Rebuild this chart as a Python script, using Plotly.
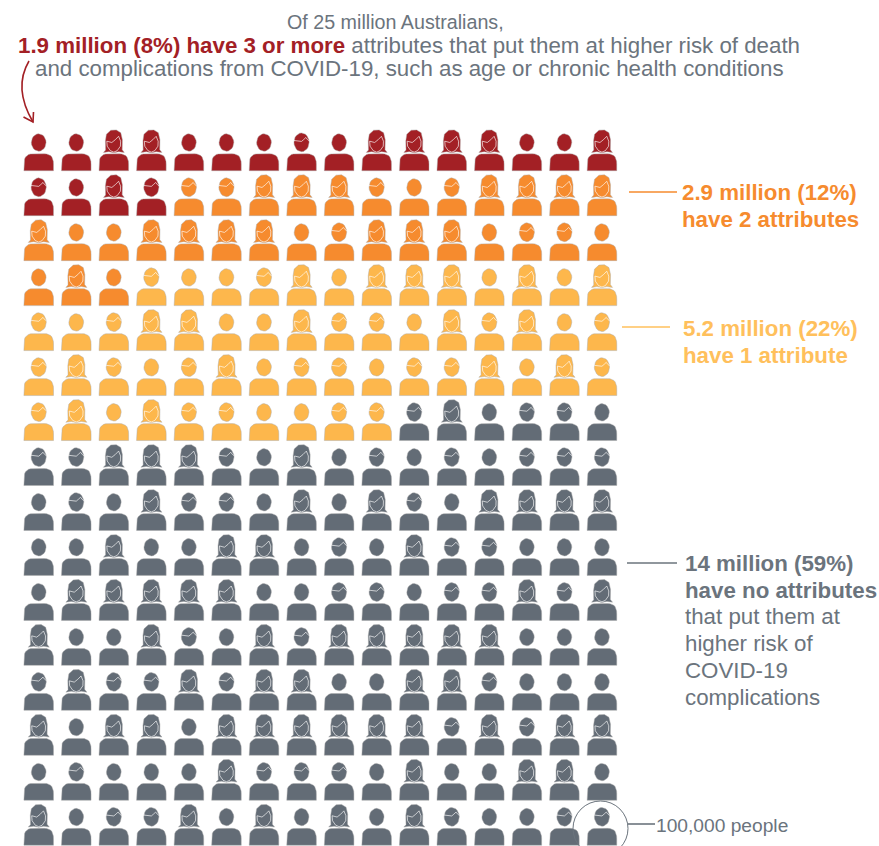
import plotly.graph_objects as go
import math

# ---- data -----------------------------------------------------------------
group_names = ["3 or more attributes", "2 attributes", "1 attribute", "No attributes"]
group_counts = [20, 31, 55, 150]
group_colors = ["#A32025", "#F68B2E", "#FDB74C", "#636C76"]

# icon type per person: B = plain, S = short hair, L = long hair
icon_rows = [
    "BBLLBBBS" "BLLLLBBL",
    "SBLSSSLL" "LSBSLLLL",
    "LBBLLLLB" "SLLLBSSB",
    "BLBSBBSL" "BLLLBLBL",
    "SBSLLBBL" "SSBLSLBS",
    "SLSBSLBS" "SBSSLBLS",
    "SLBLSSBB" "SSSLBSSB",
    "SSLLLSBL" "BSBSBSSS",
    "BSBLSSBL" "BLSBLLLL",
    "BBLBBLLB" "SBLSSBBB",
    "BLLLLLBB" "SSBSSLSL",
    "LBBLSBLS" "LLLLLBBB",
    "SLSSLSLL" "BBLLSBBB",
    "LBLLBLLL" "LLLSLSLL",
    "BSBBBLSS" "SBLBBLLB",
    "LBSSLBLB" "LBLSBBSS",
]

title_lines = ["Of 25 million Australians,",
               "1.9 million (8%) have 3 or more",
               " attributes that put them at higher risk of death",
               "and complications from COVID-19, such as age or chronic health conditions"]
WIDTH, HEIGHT = 879, 846
COL_X0, COL_DX = 38.7, 37.55
ROW_Y0, ROW_DY = 170.7, 44.97
TEXT_GREY = "#6B747D"
FONT = "Liberation Sans, Arial, sans-serif"
BIG = 22.3


# ---- icon templates, in pixels relative to the foot of each icon -----------
def ellipse(cy, rx, ry, n=24):
    return [(rx * math.cos(2 * math.pi * i / n), cy + ry * math.sin(2 * math.pi * i / n)) for i in range(n + 1)]


def bez(p0, p1, p2, n=7):
    return [((1 - t) ** 2 * p0[0] + 2 * t * (1 - t) * p1[0] + t * t * p2[0],
             (1 - t) ** 2 * p0[1] + 2 * t * (1 - t) * p1[1] + t * t * p2[1])
            for t in [i / n for i in range(n + 1)]]


BODY = ([(-14.8, 0)] + bez((-14.8, -6.5), (-15, -17.2), (-5.5, -16.9))
        + bez((5.5, -16.9), (15, -17.2), (14.8, -6.5)) + [(14.8, 0), (-14.8, 0)])
PLAIN = ellipse(-28.2, 7.4, 8.7)
SHORT = ellipse(-28.4, 7.6, 9.4)
LONG = [(-10.4, -18.2), (-8.2, -20.6), (-8.4, -30), (-7.4, -36.5), (-3, -40.5), (2.5, -40.8),
        (7, -38), (8.6, -31), (8.4, -21), (10.6, -18.2), (5, -19), (0, -18), (-5, -19), (-10.4, -18.2)]
FRINGE_S = [(-7.6, -30.2), (-3, -29.2), (0, -29.3), (2.2, -31.2), (4.3, -33.2), (6, -31), (7.8, -29.8)]
FRINGE_L = [(-7.0, -29.5), (-2, -28.2), (1.5, -31), (4.8, -34.4), (6.8, -29.5)]
FACE_L = [(-7.0, -29.5), (-6.6, -24.5), (-3.4, -20), (0, -18.6), (3.4, -20), (6.6, -24.5), (6.8, -29.5)]


def to_data(points, col, row):
    return [(col + px / COL_DX, row + py / ROW_DY) for px, py in points]


def add_poly(xs, ys, points, col, row):
    for x, y in to_data(points, col, row):
        xs.append(x)
        ys.append(y)
    xs.append(None)
    ys.append(None)


fig = go.Figure()

# ---- draw the people, group by group ---------------------------------------
cells = [(r, c, kind) for r, row in enumerate(icon_rows) for c, kind in enumerate(row)]
line_x, line_y = [], []
start = 0
for name, count, color in zip(group_names, group_counts, group_colors):
    xs, ys = [], []
    for r, c, kind in cells[start:start + count]:
        add_poly(xs, ys, BODY, c, r)
        add_poly(xs, ys, {"B": PLAIN, "S": SHORT, "L": LONG}[kind], c, r)
        if kind == "S":
            add_poly(line_x, line_y, FRINGE_S, c, r)
        if kind == "L":
            add_poly(line_x, line_y, FRINGE_L, c, r)
            add_poly(line_x, line_y, FACE_L, c, r)
    start += count
    fig.add_trace(go.Scatter(x=xs, y=ys, mode="lines", fill="toself", fillcolor=color, name=name,
                             line=dict(color="rgba(170,170,170,0.45)", width=1), hoverinfo="name"))
fig.add_trace(go.Scatter(x=line_x, y=line_y, mode="lines", hoverinfo="skip", name="hair",
                         line=dict(color="rgba(255,255,255,0.72)", width=0.9)))


# ---- text and leaders, placed in page pixels --------------------------------
def px(x):
    return x / WIDTH


def py(y):
    return 1 - y / HEIGHT


def label(x, y, text, color=TEXT_GREY, size=BIG, bold=False):
    fig.add_annotation(xref="paper", yref="paper", x=px(x), y=py(y), text=f"<b>{text}</b>" if bold else text,
                       showarrow=False, xanchor="left", yanchor="middle", align="left",
                       font=dict(family=FONT, size=size, color=color), borderpad=0)


def leader(x0, x1, y, color):
    fig.add_shape(type="line", xref="paper", yref="paper", x0=px(x0), x1=px(x1), y0=py(y), y1=py(y),
                  line=dict(color=color, width=1.6))


label(286, 22, title_lines[0], size=19.7)
label(17, 46, f'<span style="color:{group_colors[0]}"><b>{title_lines[1]}</b></span>{title_lines[2]}')
label(34, 69, title_lines[3])

label(681, 192, "2.9 million (12%)", group_colors[1], BIG, True)
label(681, 219, "have 2 attributes", group_colors[1], BIG, True)
leader(629, 677, 192, group_colors[1])

label(682, 328, "5.2 million (22%)", "#FFC05C", BIG, True)
label(682, 355, "have 1 attribute", "#FFC05C", BIG, True)
leader(622, 670, 327, "#FFC05C")

label(684, 563, "14 million (59%)", TEXT_GREY, BIG, True)
label(684, 590, "have no attributes", TEXT_GREY, BIG, True)
for y, text in zip([616, 643, 670, 697], ["that put them at", "higher risk of", "COVID-19", "complications"]):
    label(684, y, text)
leader(627, 677, 563, TEXT_GREY)

label(655, 825, "100,000 people", TEXT_GREY, 19.2)
leader(628, 655, 824, TEXT_GREY)
fig.add_shape(type="circle", xref="paper", yref="paper", x0=px(573), x1=px(628), y0=py(801), y1=py(856),
              line=dict(color=TEXT_GREY, width=1))

# curved arrow
fig.add_shape(type="path", xref="paper", yref="paper",
              path=f"M {px(29)} {py(61)} Q {px(13)} {py(88)} {px(33)} {py(122)}",
              line=dict(color=group_colors[0], width=1.6))
fig.add_shape(type="path", xref="paper", yref="paper",
              path=f"M {px(23.5)} {py(117)} L {px(33)} {py(122)} L {px(33.5)} {py(112)}",
              line=dict(color=group_colors[0], width=1.6))

fig.update_layout(
    width=WIDTH, height=HEIGHT, margin=dict(l=0, r=0, t=0, b=0), showlegend=False,
    paper_bgcolor="white", plot_bgcolor="white",
    xaxis=dict(visible=False, range=[-COL_X0 / COL_DX, (WIDTH - COL_X0) / COL_DX]),
    yaxis=dict(visible=False, range=[(HEIGHT - ROW_Y0) / ROW_DY, -ROW_Y0 / ROW_DY]),
)
fig.write_html("out.html", config={"displayModeBar": False},
               post_script="document.body.style.margin='0';document.documentElement.style.overflow='hidden';")
